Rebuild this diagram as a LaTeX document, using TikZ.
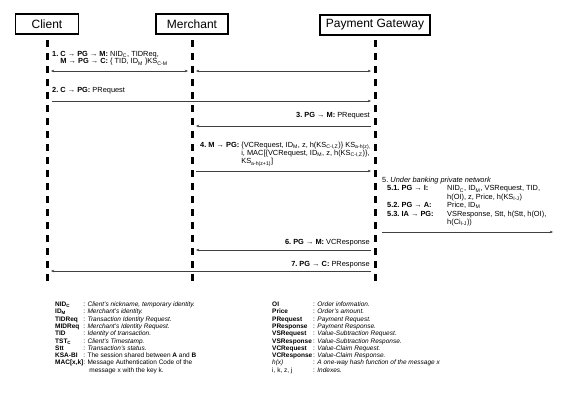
\documentclass[tikz,border=0pt]{standalone}
\usepackage{fontspec}
\setmainfont{Liberation Sans}
\usepackage{tikz}
\usetikzlibrary{arrows.meta,positioning}
\newcommand\hdfont{\fontsize{12}{14}\selectfont}
\newcommand\msgfont{\fontsize{7.4}{8.4}\selectfont}
\newcommand\legfont{\fontsize{6.5}{7.3}\selectfont}
\newcommand\sub[1]{\textsubscript{#1}}
\tikzset{
  actor/.style={draw,line width=1.1pt,minimum height=20pt,inner sep=2pt,font=\hdfont},
  lifeline/.style={line width=3pt,dash pattern=on 7pt off 6pt},
  msg/.style={draw=black!75,line width=0.5pt,shorten >=4pt,shorten <=4pt},
  txt/.style={inner sep=0pt,font=\msgfont},
  leg/.style={inner sep=0pt,font=\legfont},
  >={Stealth[length=3.2pt,width=2.6pt]}
}

\begin{document}
\begin{tikzpicture}[x=1pt,y=-1pt]
  \useasboundingbox (0,0) rectangle (572,410);
  % actors and lifelines
  \node[actor,minimum width=63pt] (client) at (47,24) {Client};
  \node[actor,minimum width=72pt] (merchant) at (192,24) {Merchant};
  \node[actor,minimum width=110pt] (pg) at (375,25) {Payment Gateway};
  \draw[lifeline] (47,40) -- (47,287);
  \draw[lifeline] (192,40) -- (192,287);
  \draw[lifeline] (375,40) -- (375,287);
  \coordinate (cl) at (client.center);
  \coordinate (ml) at (merchant.center);
  \coordinate (pl) at (pg.center);
  % message rows
  \foreach \n/\y in {1/71,2/101,3/126,4/171,5/232,6/250,7/271}
    \coordinate (r\n) at (0,\y);
  \coordinate (exit) at (553,232);

  \draw[msg,<->] (cl |- r1) -- (ml |- r1);
  \draw[msg,<->] (ml |- r1) -- (pl |- r1);
  \draw[msg,->,shorten <=5pt] (cl |- r2) -- (pl |- r2);
  \draw[msg,->] (pl |- r3) -- (ml |- r3);
  \draw[msg,->] (ml |- r4) -- (pl |- r4);
  \draw[msg,->,shorten <=7pt,shorten >=0pt] (pl |- r5) -- (exit);
  \draw[msg,->] (pl |- r6) -- (ml |- r6);
  \draw[msg,->] (pl |- r7) -- (cl |- r7);

  % message texts
  \node[txt,anchor=base west] (t1) at (52,56.5) {\begin{tabular}[t]{@{}l@{}}
    \textbf{1.\ C → PG → M:} NID\sub{C}, TIDReq,\\[-1pt]
    \phantom{\textbf{1.\ }}\textbf{M → PG → C:} \{ TID, ID\sub{M} \}KS\sub{C-M}
  \end{tabular}};
  \node[txt,anchor=base west] (t2) at (52,92.5) {\textbf{2.\ C → PG:} PRequest};
  \node[txt,anchor=base east] (t3) at (370,117.5) {\textbf{3.\ PG → M:} PRequest};
  \node[txt,anchor=base west] (t4) at (200,147) {\begin{tabular}[t]{@{}l@{\ }l@{}}
    \textbf{4.\ M → PG:} & \{VCRequest, ID\sub{M}, z, h(KS\sub{C-I,Z})\} KS\sub{a-h(z),}\\
    & i, MAC[\{VCRequest, ID\sub{M}, z, h(KS\sub{C-I,Z})\},\\
    & KS\sub{a-h(z+1)}]
  \end{tabular}};
  \node[txt,anchor=base west] (t5) at (382,182.5) {\begin{tabular}[t]{@{\hspace{5pt}}p{60pt}@{}l@{}}
    \multicolumn{2}{@{}l@{}}{5.\ \textit{Under banking private network}}\\
    \textbf{5.1.\ PG → I:} & NID\sub{C}, ID\sub{M}, VSRequest, TID,\\
    & h(OI), z, Price, h(KS\sub{I-J})\\
    \textbf{5.2.\ PG → A:} & Price, ID\sub{M}\\
    \textbf{5.3.\ IA → PG:} & VSResponse, Stt, h(Stt, h(OI),\\
    & h(Ci\sub{I-J}))
  \end{tabular}};
  \node[txt,anchor=base east] (t6) at (370,244.5) {\textbf{6.\ PG → M:} VCResponse};
  \node[txt,anchor=base east] (t7) at (370,266.5) {\textbf{7.\ PG → C:} PResponse};

  % legend
  \node[leg,anchor=base west] (keyL) at (55,306.5) {\begin{tabular}[t]{@{}l@{}l@{}}
    \textbf{NID\sub{C}} & : \textit{Client's nickname, temporary identity.}\\
    \textbf{ID\sub{M}} & : \textit{Merchant's identity.}\\
    \textbf{TIDReq} & : \textit{Transaction Identity Request.}\\
    \textbf{MIDReq} & : \textit{Merchant's Identity Request.}\\
    \textbf{TID} & : \textit{Identity of transaction.}\\
    \textbf{TST\sub{C}} & : \textit{Client's Timestamp.}\\
    \textbf{Stt} & : \textit{Transaction's status.}\\
    \textbf{KSA-BI} & : The session shared between \textbf{A} and \textbf{B}\\
    \textbf{MAC[x,k]} & : Message Authentication Code of the\\
    & \hspace{6pt}message x with the key k.
  \end{tabular}};
  \node[leg,anchor=base west] (keyR) at (272,306.5) {\begin{tabular}[t]{@{}p{41pt}@{}l@{}}
    \textbf{OI} & : \textit{Order information.}\\
    \textbf{Price} & : \textit{Order's amount.}\\
    \textbf{PRequest} & : \textit{Payment Request.}\\
    \textbf{PResponse} & : \textit{Payment Response.}\\
    \textbf{VSRequest} & : \textit{Value-Subtraction Request.}\\
    \textbf{VSResponse} & : \textit{Value-Subtraction Response.}\\
    \textbf{VCRequest} & : \textit{Value-Claim Request.}\\
    \textbf{VCResponse} & : \textit{Value-Claim Response.}\\
    \textit{h(x)} & : \textit{A one-way hash function of the message x}\\
    i, k, z, j & : \textit{Indexes.}
  \end{tabular}};
\end{tikzpicture}
\end{document}
